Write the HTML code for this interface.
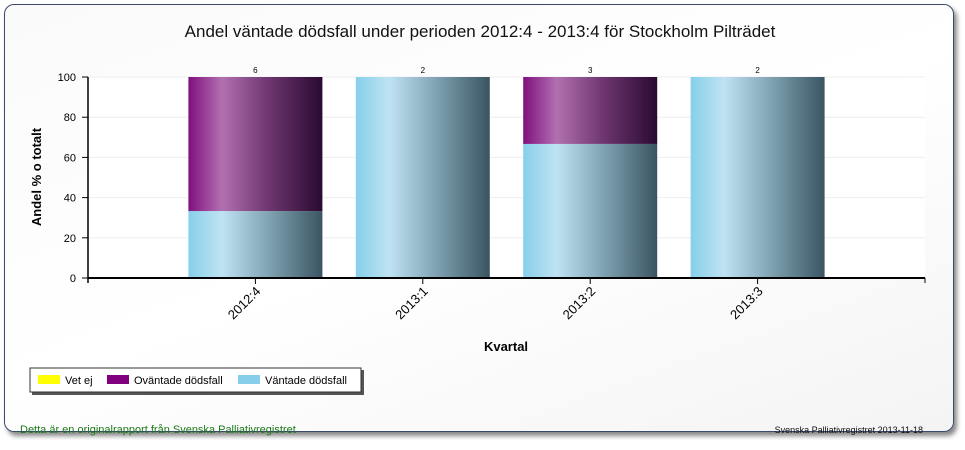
<!DOCTYPE html>
<html><head><meta charset="utf-8"><style>
body{margin:0;background:#fff;font-family:"Liberation Sans",sans-serif;}
#frame{position:absolute;left:4px;top:4px;width:948px;height:426px;border:1px solid #3a4a6a;border-radius:10px;background:linear-gradient(160deg,#fafafa,#fff 50%,#f4f4f4);box-shadow:3px 4px 5px #888;}
</style></head><body>
<div id="frame"></div>
<svg width="965" height="450" style="position:absolute;left:0;top:0">
<defs>
<linearGradient id="gb" x1="0" x2="1"><stop offset="0" stop-color="#87cfea"/><stop offset="0.25" stop-color="#bfe3f2"/><stop offset="0.6" stop-color="#7fa3b2"/><stop offset="1" stop-color="#3b5462"/></linearGradient>
<linearGradient id="gp" x1="0" x2="1"><stop offset="0" stop-color="#80107f"/><stop offset="0.25" stop-color="#b270b0"/><stop offset="0.6" stop-color="#6d3670"/><stop offset="1" stop-color="#2a0a30"/></linearGradient>
</defs>
<text x="480" y="37" text-anchor="middle" font-size="17" fill="#111">Andel väntade dödsfall under perioden 2012:4 - 2013:4 för Stockholm Pilträdet</text>
<rect x="88" y="77" width="837" height="201" fill="#fff"/>
<g id="grid"></g><g id="bars"></g><g id="axes"></g>
<text transform="translate(41,177) rotate(-90)" text-anchor="middle" font-size="13" font-weight="bold">Andel % o totalt</text>
<text x="506" y="351" text-anchor="middle" font-size="13" font-weight="bold">Kvartal</text>
<g>
<rect x="32" y="370" width="332" height="25" fill="#555"/>
<rect x="30" y="368" width="331" height="24" fill="#fff" stroke="#333"/>
<rect x="38" y="375" width="22" height="9" fill="#ffff00"/>
<text x="65" y="384" font-size="11">Vet ej</text>
<rect x="107" y="375" width="22" height="9" fill="#800080"/>
<text x="134" y="384" font-size="11">Oväntade dödsfall</text>
<rect x="238" y="375" width="22" height="9" fill="#87ceeb"/>
<text x="265" y="384" font-size="11">Väntade dödsfall</text>
</g>
<text x="20" y="433" font-size="11" fill="#1a7a1a">Detta är en originalrapport från Svenska Palliativregistret</text>
<text x="923" y="433" text-anchor="end" font-size="9" fill="#111">Svenska Palliativregistret 2013-11-18</text>
</svg>
<script>
const categories=["2012:4","2013:1","2013:2","2013:3"];
const vantade=[33.3,100,66.7,100];
const ovantade=[66.7,0,33.3,0];
const counts=[6,2,3,2];
const yTicks=[0,20,40,60,80,100];
const NS="http://www.w3.org/2000/svg";
const X0=88,X1=925,Y0=278,Y1=77,slots=categories.length+1;
const xs=i=>X0+(X1-X0)/slots*(i+1);
const ys=v=>Y0-(Y0-Y1)*v/100;
const bw=134;
function mk(t,a,p){const e=document.createElementNS(NS,t);for(const k in a)e.setAttribute(k,a[k]);p.appendChild(e);return e;}
const grid=document.getElementById('grid'),bars=document.getElementById('bars'),axes=document.getElementById('axes');
yTicks.forEach(v=>{
 const l=mk('line',{x1:X0,x2:X1,y1:ys(v),y2:ys(v),stroke:'#eee'},grid);
 
 
 const tk=mk('line',{x1:X0-6,x2:X0,y1:ys(v),y2:ys(v),stroke:'#000'},axes);
 
 
 const t=mk('text',{x:X0-12,y:ys(v)+4,'text-anchor':'end','font-size':11},axes);
 t.textContent=v;
 
 
});
categories.forEach((c,i)=>{
 const cx=xs(i);
 const hb=ys(0)-ys(vantade[i]);
 if(hb>0){const r=mk('rect',{x:cx-bw/2,y:ys(vantade[i]),width:bw,height:hb,fill:'url(#gb)'},bars);
 
 }
 const hp=ys(vantade[i])-ys(vantade[i]+ovantade[i]);
 if(hp>0){const r=mk('rect',{x:cx-bw/2,y:ys(vantade[i]+ovantade[i]),width:bw,height:hp,fill:'url(#gp)'},bars);
 
 }
 const n=mk('text',{x:cx,y:Y1-4,'text-anchor':'middle','font-size':8},bars);
 n.textContent=counts[i];
 
 
 const tk=mk('line',{x1:cx,x2:cx,y1:Y0,y2:Y0+6,stroke:'#000'},axes);
 
 
 const t=mk('text',{transform:`translate(${cx+6},${Y0+14}) rotate(-45)`,'text-anchor':'end','font-size':13},axes);
 t.textContent=c;
 
 
});
const ya=mk('line',{x1:X0,x2:X0,y1:Y1,y2:Y0+5,stroke:'#000','stroke-width':1.5},axes);


const xa=mk('line',{x1:X0,x2:X1,y1:Y0,y2:Y0,stroke:'#000','stroke-width':2},axes);


const xa2=mk('line',{x1:X1,x2:X1,y1:Y0,y2:Y0+5,stroke:'#000'},axes);


</script>
</body></html>
